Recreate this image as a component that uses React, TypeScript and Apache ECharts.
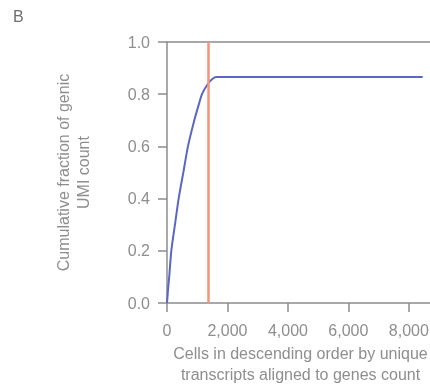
import React, { useEffect, useRef } from "react";
import * as echarts from "echarts";

const cellRanks = [0, 40, 80, 142, 275, 385, 540, 693, 880, 1050, 1157, 1355, 1500, 1620, 8460];
const cumulativeFraction = [0, 0.06, 0.11, 0.2, 0.31, 0.4, 0.5, 0.6, 0.69, 0.76, 0.8, 0.84, 0.858, 0.866, 0.866];
const cutoffCell = 1355;
const yTicks = [0, 0.2, 0.4, 0.6, 0.8, 1.0];
const xTicks = [0, 2000, 4000, 6000, 8000];

const FONT = "Liberation Sans";
const TXT = "#8e8e8e";
const AX = "#8c8c8c";

export default function App() {
  const ref = useRef<HTMLDivElement>(null);
  useEffect(() => {
    document.body.style.margin = "0";
    const chart = echarts.init(ref.current!, null, { renderer: "svg" });
    const data = cellRanks.map((x, i) => [x, cumulativeFraction[i]]);
    chart.setOption({
      animation: false,
      textStyle: { fontFamily: FONT },
      grid: { left: 167, right: 0, top: 42, bottom: 82, containLabel: false, outerBoundsMode: "none" },
      graphic: [
        {
          type: "text",
          left: 13,
          top: 8,
          style: { text: "B", fontFamily: FONT, fontSize: 16, fill: "#6e6e6e" },
        },
      ],
      xAxis: [
        {
          type: "value",
          min: 0,
          max: 8700,
          interval: 2000,
          name: "Cells in descending order by unique\ntranscripts aligned to genes count",
          nameLocation: "middle",
          nameGap: 38,
          nameTextStyle: { color: TXT, fontSize: 16, lineHeight: 21, fontFamily: FONT, padding: [0, 0, 0, 4] },
          axisLine: { show: true, lineStyle: { color: AX, width: 1.5 } },
          axisTick: { show: true, length: 9, lineStyle: { color: AX, width: 1.5 } },
          axisLabel: {
            color: TXT,
            fontSize: 16,
            margin: 19,
            fontFamily: FONT,
            showMaxLabel: false,
            formatter: (v: number) => (xTicks.includes(v) ? v.toLocaleString("en-US") : ""),
          },
          splitLine: { show: false },
        },
        {
          type: "value",
          position: "top",
          min: 0,
          max: 8700,
          interval: 2000,
          axisLine: { show: true, onZero: false, lineStyle: { color: AX, width: 1.5 } },
          axisTick: { show: false },
          axisLabel: { show: false },
          splitLine: { show: false },
        },
      ],
      yAxis: {
        type: "value",
        min: 0,
        max: 1,
        interval: 0.2,
        name: "Cumulative fraction of genic\nUMI count",
        nameLocation: "middle",
        nameGap: 74,
        nameTextStyle: { color: TXT, fontSize: 16, lineHeight: 20, fontFamily: FONT },
        axisLine: { show: true, lineStyle: { color: AX, width: 1.5 } },
        axisTick: { show: true, length: 9, lineStyle: { color: AX, width: 1.5 } },
        axisLabel: {
          color: TXT,
          fontSize: 16,
          margin: 17,
          fontFamily: FONT,
          formatter: (v: number) => (yTicks.some((t) => Math.abs(t - v) < 1e-9) ? v.toFixed(1) : ""),
        },
        splitLine: { show: false },
      },
      series: [
        {
          type: "line",
          data,
          showSymbol: false,
          smooth: 0.2,
          lineStyle: { color: "#5b67c2", width: 2 },
          z: 3,
          markLine: {
            silent: true,
            symbol: "none",
            label: { show: false },
            lineStyle: { color: "#f4957a", width: 2.5, type: "solid" },
            data: [[{ coord: [cutoffCell, 0] }, { coord: [cutoffCell, 1] }]],
          },
        },
      ],
    });
    return () => chart.dispose();
  }, []);
  return <div ref={ref} style={{ position: "fixed", left: 0, top: 0, width: 430, height: 385 }} />;
}
